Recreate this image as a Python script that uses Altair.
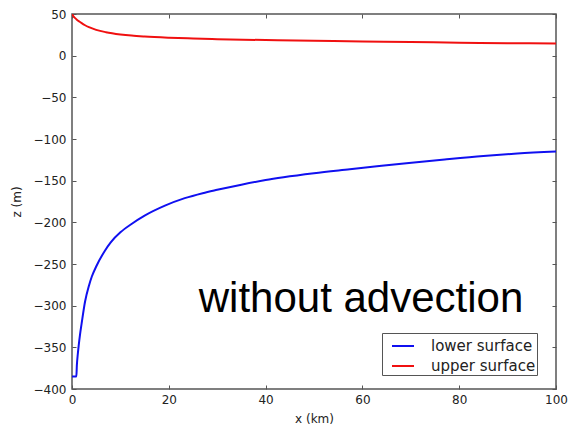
import altair as alt
import pandas as pd

# ---- data ----
lower_x = [0, 0.5, 0.9, 1.0, 1.2, 1.4, 1.65, 2, 2.7, 3.5, 4.1, 5, 6.8, 8, 10, 12.3, 15,
           19.2, 23.3, 27, 30, 35, 40, 43.7, 50, 57.4, 63, 69.1, 77, 85, 92, 100]
lower_z = [-385, -385, -385, -372, -358, -347, -335, -321, -295, -276, -265, -253, -234,
           -224, -212, -202, -192, -180, -171, -165, -161, -154.8, -149.3, -146, -141.2,
           -136.4, -132.8, -129, -124.5, -120.3, -117.4, -115]
upper_x = [0, 0.3, 0.6, 1, 1.5, 2, 2.7, 3.5, 5, 7, 10, 12.3, 15, 20, 25, 30, 40, 50,
           60, 70, 80, 90, 100]
upper_z = [50, 47.2, 45.3, 43.2, 41, 39, 36.5, 34.2, 31, 28.2, 25.5, 24.1, 23, 21.6,
           20.6, 19.8, 18.7, 17.8, 17.0, 16.3, 15.6, 15.0, 14.5]
series_names = ["lower surface", "upper surface"]
series_colors = ["#1010f0", "#f01010"]
x_ticks = [0, 20, 40, 60, 80, 100]
y_ticks = [-400, -350, -300, -250, -200, -150, -100, -50, 0, 50]
annotation = ["without advection"]

df = pd.concat([
    pd.DataFrame({"x": lower_x, "z": lower_z, "series": series_names[0]}),
    pd.DataFrame({"x": upper_x, "z": upper_z, "series": series_names[1]}),
], ignore_index=True)

W, H = 484, 375
x_scale = alt.Scale(domain=[0, 100], nice=False, zero=False)
y_scale = alt.Scale(domain=[-400, 50], nice=False, zero=False)
tick_in = alt.ExprRef(expr="-4")

lines = alt.Chart(df).mark_line(strokeWidth=2, clip=True, interpolate="monotone").encode(
    x=alt.X("x:Q", scale=x_scale, title="x (km)",
            axis=alt.Axis(orient="bottom", values=x_ticks, tickSize=tick_in,
                          labelPadding=9, labelFlush=False, labelOverlap=False,
                          titlePadding=8)),
    y=alt.Y("z:Q", scale=y_scale, title="z (m)",
            axis=alt.Axis(orient="left", values=y_ticks, tickSize=tick_in,
                          labelPadding=10, labelFlush=False, labelOverlap=False,
                          titlePadding=10)),
    color=alt.Color("series:N",
                    scale=alt.Scale(domain=series_names, range=series_colors),
                    legend=alt.Legend(title=None, orient="none", legendX=310, legendY=319,
                                      symbolType="stroke", symbolSize=484,
                                      symbolStrokeWidth=2, labelFont="DejaVu Sans",
                                      labelFontSize=15, labelColor="#222",
                                      labelOffset=16, padding=1, symbolOffset=8,
                                      rowPadding=0, strokeColor="#555",
                                      fillColor="white", cornerRadius=0)),
)

frame = alt.Chart(df).mark_line(opacity=0).encode(
    x=alt.X("x:Q", scale=x_scale, title=None,
            axis=alt.Axis(orient="top", values=x_ticks, tickSize=tick_in, labels=False)),
    y=alt.Y("z:Q", scale=y_scale, title=None,
            axis=alt.Axis(orient="right", values=y_ticks, tickSize=tick_in, labels=False)),
)

text = alt.Chart(pd.DataFrame({"label": annotation})).mark_text(
    font="Liberation Sans", fontSize=42, align="center", baseline="alphabetic",
    color="black"
).encode(x=alt.value(289), y=alt.value(298), text="label:N")

chart = alt.layer(text, lines, frame).resolve_scale(
    x="shared", y="shared"
).resolve_axis(
    x="independent", y="independent"
).properties(
    width=W, height=H,
    padding={"left": 72, "top": 14, "right": 13, "bottom": 40},
    autosize=alt.AutoSizeParams(type="none"),
).configure_view(
    stroke="#555", strokeWidth=1.5
).configure_axis(
    domain=False, grid=False,
    labelFont="DejaVu Sans", labelFontSize=12, labelColor="#222",
    titleFont="DejaVu Sans", titleFontSize=12, titleFontWeight="normal",
    titleColor="#222", tickColor="#555", tickWidth=1,
)

chart.save("out.html", embed_options={"renderer": "svg", "actions": False})
